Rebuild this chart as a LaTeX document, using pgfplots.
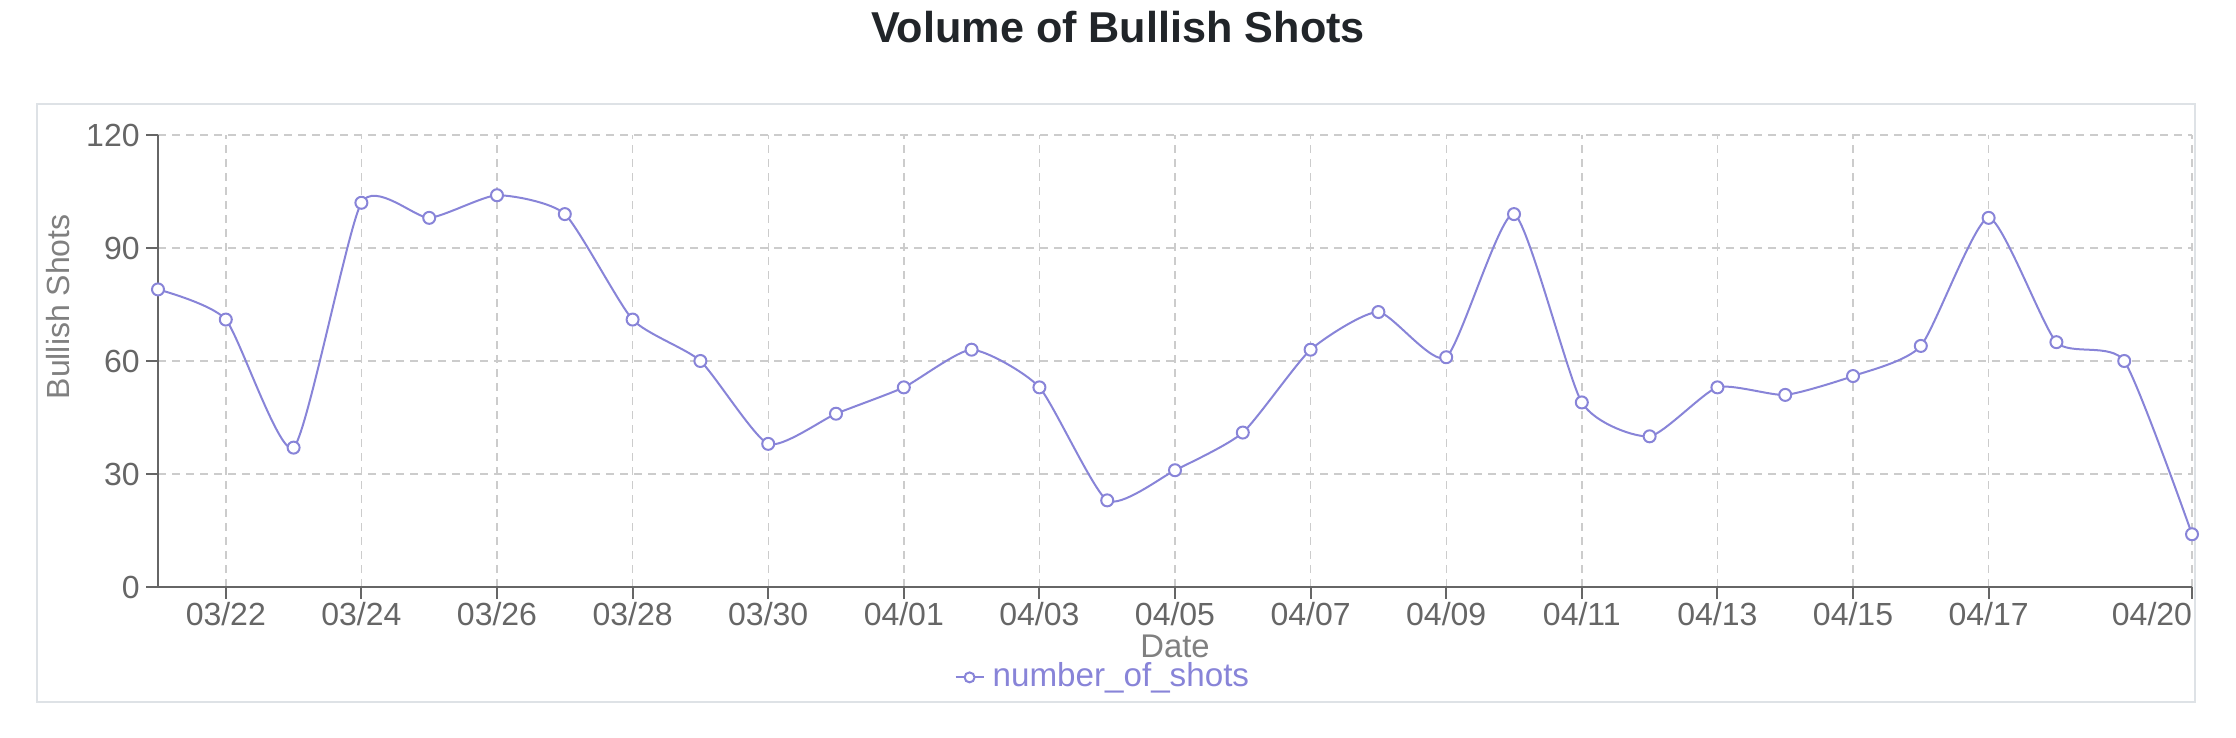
\documentclass[border=0pt]{standalone}
\usepackage{pgfplots}
\pgfplotsset{compat=1.18}
\usepackage{fontspec}
\setmainfont{Liberation Sans}
\definecolor{linecol}{HTML}{8884D8}
\definecolor{gridcol}{HTML}{CCCCCC}
\definecolor{axiscol}{HTML}{666666}
\definecolor{labcol}{HTML}{808080}
\definecolor{boxcol}{HTML}{DEE2E6}
\definecolor{titlecol}{HTML}{212529}
\begin{document}
\begin{tikzpicture}
\useasboundingbox (0,0) rectangle (559pt,184.5pt);
\draw[color=boxcol, line width=0.5pt] (9.25pt,9pt) rectangle (548.75pt,158.5pt);
\node[anchor=base, font=\fontsize{10.8}{13}\selectfont\bfseries, text=titlecol] at (279.5pt,173.75pt) {Volume of Bullish Shots};
\begin{axis}[
  at={(39.5pt,37.75pt)}, anchor=south west,
  scale only axis, width=508.5pt, height=113pt,
  xmin=0, xmax=30, ymin=0, ymax=120,
  clip=false,
  axis lines=left,
  axis line style={-, color=axiscol, line width=0.5pt},
  tick align=outside,
  major tick length=3pt,
  tick style={color=axiscol, line width=0.5pt},
  xtick={1,3,5,7,9,11,13,15,17,19,21,23,25,27,30},
  xticklabels={03/22,03/24,03/26,03/28,03/30,04/01,04/03,04/05,04/07,04/09,04/11,04/13,04/15,04/17,\makebox[0pt][r]{04/20}},
  ytick={0,30,60,90,120},
  /pgf/number format/assume math mode=true,
  tick label style={font=\fontsize{8}{10}\selectfont, text=axiscol},
  xticklabel style={anchor=base, yshift=-6.6pt},
  yticklabel style={inner xsep=1.4pt},
  grid=major,
  major grid style={color=gridcol, line width=0.35pt, dash pattern=on 2pt off 1.5pt},
  xlabel={Date},
  xlabel style={at={(axis description cs:0.5,-0.1549)}, anchor=base, inner sep=0pt, font=\fontsize{8.2}{10}\selectfont, text=labcol},
  ylabel={Bullish Shots},
  ylabel style={at={(axis description cs:-0.0492,0.62)}, anchor=center, font=\fontsize{8}{10}\selectfont, text=labcol},
  legend style={at={(axis description cs:0.466,-0.2)}, anchor=center, draw=none, fill=none, font=\fontsize{8.3}{10}\selectfont, text=linecol, inner sep=0pt},
  legend image code/.code={\draw[#1, mark=none] (0pt,0pt) -- (7pt,0pt); \draw[#1, mark size=1.25pt] plot coordinates {(3.5pt,0pt)};},
]
\addplot[color=linecol, line width=0.5pt, smooth, tension=0.35, mark=*, mark size=1.5pt, mark options={fill=white, draw=linecol, line width=0.5pt}] coordinates {
(0,79) (1,71) (2,37) (3,102) (4,98) (5,104) (6,99) (7,71) (8,60) (9,38)
(10,46) (11,53) (12,63) (13,53) (14,23) (15,31) (16,41) (17,63) (18,73) (19,61)
(20,99) (21,49) (22,40) (23,53) (24,51) (25,56) (26,64) (27,98) (28,65) (29,60)
(30,14)
};
\addlegendentry{number\_of\_shots}
\end{axis}
\end{tikzpicture}
\end{document}
